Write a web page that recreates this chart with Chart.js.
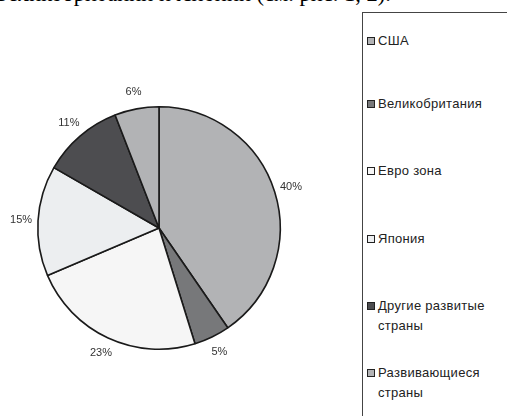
<!DOCTYPE html>
<html>
<head>
<meta charset="utf-8">
<script src="https://cdn.jsdelivr.net/npm/chart.js@4/dist/chart.umd.min.js"></script>
<style>
    html, body { margin: 0; padding: 0; background: #fff; overflow: hidden; }
    body { width: 507px; height: 416px; position: relative; }
    #topText {
        position: absolute; left: 0; top: -17px;
        font-family: "Liberation Serif", "DejaVu Serif", serif; font-size: 22.5px;
        line-height: 22px; white-space: nowrap; color: #000;
    }
    #pieBox { position: absolute; left: -1px; top: 68px; width: 320px; height: 320px; }
    #legendBox {
        position: absolute; left: 362px; top: 12px; width: 160px; height: 420px;
        border-left: 1px solid #444; border-top: 1px solid #444;
        font-family: "Liberation Sans", Arial, sans-serif; font-size: 13px; color: #222;
    }
    .item { position: absolute; left: 4px; line-height: 20px; }
    .swatch {
        position: absolute; left: 0; top: 6px; width: 6px; height: 6px;
        border: 1px solid #222;
    }
    .txt { position: absolute; left: 11px; top: 0; white-space: nowrap; letter-spacing: 0.3px; }
</style>
</head>
<body>
<div id="topText">Великобритании и Японии (см. рис. 1, 2).</div>
<div id="pieBox"><canvas id="pieChart"></canvas></div>
<div id="legendBox"></div>
<script>
// Chart data
const categories = ['США', 'Великобритания', 'Евро зона', 'Япония', ['Другие развитые', 'страны'], ['Развивающиеся', 'страны']];
const shares = [40.4, 4.8, 23.4, 14.7, 10.8, 5.9];
const sliceColors = ['#b2b3b5', '#77787a', '#f6f6f6', '#eceef0', '#4d4d50', '#b2b3b5'];
const legendTops = [18, 81, 148, 216, 283, 350];

// Percent labels outside the pie
const outsideLabels = {
    id: 'outsideLabels',
    afterDatasetsDraw(chart) {
        const ctx = chart.ctx;
        const meta = chart.getDatasetMeta(0);
        ctx.save();
        ctx.font = '11px "Liberation Sans", Arial, sans-serif';
        ctx.fillStyle = '#333';
        ctx.textAlign = 'center';
        ctx.textBaseline = 'middle';
        meta.data.forEach((arc, i) => {
            const mid = (arc.startAngle + arc.endAngle) / 2;
            const r = arc.outerRadius + 17;
            const x = arc.x + Math.cos(mid) * r;
            const y = arc.y + Math.sin(mid) * r;
            ctx.fillText(Math.round(shares[i]) + '%', x, y);
        });
        ctx.restore();
    }
};

function initializePie() {
    const ctx = document.getElementById('pieChart');
    if (!ctx) return;

    new Chart(ctx, {
        type: 'pie',
        data: {
            labels: categories,
            datasets: [{
                data: shares,
                backgroundColor: sliceColors,
                borderColor: '#1a1a1a',
                borderWidth: 1.6
            }]
        },
        options: {
            responsive: true,
            maintainAspectRatio: false,
            animation: false,
            layout: { padding: 38 },
            plugins: {
                legend: { display: false },
                tooltip: { enabled: false }
            }
        },
        plugins: [outsideLabels]
    });
}

// Legend drawn as plain html next to the pie
function buildLegend() {
    const box = document.getElementById('legendBox');
    if (!box) return;

    let html = '';
    categories.forEach((label, i) => {
        const lines = Array.isArray(label) ? label : [label];
        html += `
            <div class="item" style="top:${legendTops[i]}px">
                <span class="swatch" style="background:${sliceColors[i]}"></span>
                <span class="txt">${lines.join('<br>')}</span>
            </div>
        `;
    });
    box.innerHTML = html;
}

// The cut-off text line above ends near x = 391
function placeTopText() {
    const el = document.getElementById('topText');
    if (!el) return;
    el.style.left = (391 - el.offsetWidth) + 'px';
}

initializePie();
buildLegend();
placeTopText();
</script>
</body>
</html>
